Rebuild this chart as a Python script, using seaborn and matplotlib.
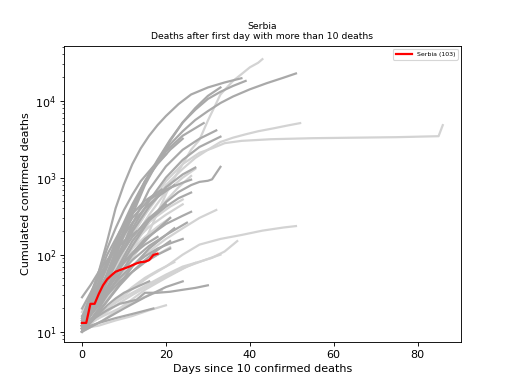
import matplotlib
matplotlib.use("Agg")
import pandas as pd
import matplotlib.pyplot as plt
import seaborn as sns

# Serbia, deaths per day since the 10th death
serbia_days = list(range(19))
serbia_deaths = [13, 13, 23, 23, 31, 40, 48, 54, 60, 63, 66, 69, 73, 77, 80, 81, 85, 99, 103]

# other countries, (day, deaths)
dark_curves = [
    [(0, 12), (2, 25), (4, 60), (6, 150), (8, 400), (10, 820), (12, 1500), (14, 2400), (16, 3500),
     (18, 4800), (20, 6300), (23, 9000), (26, 12000), (30, 14800), (34, 17200), (38, 19500)],
    [(0, 11), (3, 20), (6, 55), (9, 150), (12, 380), (15, 850), (18, 1600), (21, 2700), (24, 4000),
     (27, 5600), (30, 7300), (33, 9300), (36, 11300), (40, 14000), (44, 16800), (48, 19800), (51, 22500)],
    [(0, 13), (3, 28), (6, 70), (9, 180), (12, 420), (15, 900), (18, 1700), (21, 3100), (24, 5200),
     (27, 7600), (30, 10500), (33, 13000), (36, 15500), (39, 18000)],
    [(0, 10), (3, 22), (6, 50), (9, 130), (12, 330), (15, 800), (18, 1600), (21, 3000), (24, 5200),
     (27, 8000), (30, 11500), (33, 14800)],
    [(0, 12), (4, 30), (8, 110), (12, 400), (16, 1100), (20, 2200), (24, 3500), (29, 5100)],
    [(0, 11), (4, 25), (8, 80), (12, 250), (16, 700), (20, 1400), (24, 2300), (28, 3200), (32, 4100)],
    [(0, 14), (4, 35), (8, 90), (12, 220), (16, 500), (20, 1000), (24, 1700), (28, 2500), (33, 3400)],
    [(0, 12), (4, 22), (8, 55), (12, 130), (16, 280), (20, 480), (23, 650), (26, 800), (28, 880),
     (30, 910), (31, 950), (33, 1380)],
    [(0, 10), (4, 28), (8, 75), (12, 200), (16, 420), (20, 750), (24, 1100), (27, 1350)],
    [(0, 13), (4, 24), (8, 60), (12, 150), (16, 280), (20, 420), (23, 540), (26, 640)],
    [(0, 11), (5, 30), (10, 80), (15, 160), (20, 250), (24, 320), (26, 360)],
    [(0, 15), (4, 45), (8, 130), (12, 300), (16, 520), (20, 700), (24, 860), (26, 940)],
    [(0, 12), (4, 30), (8, 80), (12, 170), (16, 300), (20, 450)],
    [(0, 10), (4, 20), (8, 45), (12, 100), (16, 170), (21, 300)],
    [(0, 14), (3, 40), (6, 100), (9, 200), (12, 340), (15, 500), (19, 700)],
    [(0, 11), (4, 18), (8, 35), (12, 70), (16, 120), (20, 180), (22, 220)],
    [(0, 12), (3, 15), (6, 19), (9, 23), (13, 26), (15, 32), (18, 32), (21, 33), (24, 35),
     (27, 37), (30, 40)],
    [(0, 11), (4, 13), (8, 15), (12, 17), (17, 20)],
    [(0, 10), (5, 14), (10, 20), (15, 28), (20, 38), (24, 45)],
    [(0, 13), (3, 20), (6, 30), (9, 45), (12, 60), (15, 80), (18, 100), (21, 120)],
    [(0, 12), (4, 25), (8, 50), (12, 85), (16, 130), (20, 180), (25, 260)],
    [(0, 15), (2, 30), (4, 60), (6, 120), (8, 220), (10, 380), (12, 600), (14, 900), (17, 1400), (20, 2000)],
    [(0, 12), (3, 30), (6, 80), (9, 200), (12, 450), (15, 900), (18, 1500), (21, 2300), (24, 3200)],
    [(0, 20), (3, 40), (6, 80), (9, 150), (12, 260), (15, 400), (18, 560), (22, 800)],
    [(0, 11), (3, 16), (6, 25), (9, 40), (12, 60), (15, 85), (18, 115), (21, 150)],
    [(0, 16), (3, 28), (6, 45), (9, 70), (12, 100), (15, 135), (18, 170)],
    [(0, 12), (3, 20), (6, 33), (9, 50), (12, 72), (15, 95), (18, 120), (21, 140), (24, 160)],
    [(0, 28), (2, 40), (4, 60), (6, 85), (8, 115), (10, 150), (13, 200)],
    [(0, 10), (2, 13), (4, 17), (6, 22), (8, 27), (10, 32), (13, 38), (16, 45)],
]

light_curves = [
    [(0, 10), (4, 20), (8, 40), (12, 90), (15, 150), (18, 350), (21, 800), (24, 1500), (26, 2300),
     (28, 3100), (30, 5500), (33, 12000), (36, 18000), (38, 22000), (40, 27000), (42, 31000), (43, 34500)],
    [(0, 12), (4, 30), (8, 80), (12, 200), (16, 450), (20, 900), (24, 1500), (28, 2100), (31, 2400),
     (34, 2800), (38, 3000), (45, 3150), (55, 3250), (65, 3300), (75, 3350), (85, 3450), (86, 4800)],
    [(0, 10), (4, 25), (8, 70), (12, 180), (16, 400), (20, 800), (24, 1300), (27, 1800), (30, 2300),
     (33, 2900), (36, 3300), (39, 3650), (42, 4000), (46, 4400), (49, 4750), (52, 5100)],
    [(0, 11), (4, 25), (8, 60), (12, 150), (16, 330), (20, 650), (24, 1000), (27, 1300)],
    [(0, 12), (4, 22), (8, 50), (12, 120), (16, 260), (20, 500), (23, 750), (26, 1050)],
    [(0, 10), (3, 18), (6, 40), (9, 90), (12, 180), (15, 330), (18, 550), (21, 850)],
    [(0, 13), (4, 22), (8, 40), (12, 70), (16, 110), (20, 160), (24, 220), (28, 300), (32, 380)],
    [(0, 11), (4, 16), (8, 24), (12, 36), (16, 52), (20, 70), (24, 100), (28, 135), (33, 160),
     (38, 180), (43, 205), (48, 225), (51, 235)],
    [(0, 12), (4, 17), (8, 24), (12, 32), (16, 42), (20, 55), (24, 70), (28, 81), (31, 91),
     (34, 110), (37, 150)],
    [(0, 10), (5, 14), (10, 22), (15, 35), (20, 50), (25, 70), (30, 88), (33, 100)],
    [(0, 11), (4, 12), (8, 14), (12, 16), (16, 19), (20, 22)],
    [(0, 12), (4, 15), (8, 19), (12, 24), (16, 30), (19, 34)],
    [(0, 10), (3, 14), (6, 20), (9, 28), (12, 38), (15, 50), (18, 62), (22, 80)],
    [(0, 14), (3, 25), (6, 45), (9, 75), (12, 120), (15, 170), (18, 230), (21, 300)],
    [(0, 11), (4, 30), (8, 70), (12, 140), (16, 230), (20, 330), (24, 450)],
    [(0, 13), (3, 30), (6, 70), (9, 140), (12, 250), (15, 400), (18, 600)],
    [(0, 18), (3, 35), (6, 65), (9, 110), (12, 170), (15, 240), (18, 320), (21, 420), (24, 520)],
    [(0, 12), (3, 18), (6, 28), (9, 42), (12, 60), (15, 80), (18, 100), (21, 125)],
    [(0, 11), (4, 15), (8, 22), (12, 30), (16, 40), (20, 52), (24, 66), (27, 78)],
]


def to_frame(curves):
    rows = []
    for i, curve in enumerate(curves):
        for day, deaths in curve:
            rows.append({"country": i, "day": day, "deaths": deaths})
    return pd.DataFrame(rows)


fig, ax = plt.subplots(figsize=(6.4, 4.8), dpi=80)

sns.lineplot(data=to_frame(light_curves), x="day", y="deaths", units="country", estimator=None,
             color="lightgray", linewidth=2, ax=ax)
sns.lineplot(data=to_frame(dark_curves), x="day", y="deaths", units="country", estimator=None,
             color="darkgray", linewidth=2, ax=ax)
sns.lineplot(x=serbia_days, y=serbia_deaths, color="red", linewidth=2,
             label=f"Serbia ({serbia_deaths[-1]})", ax=ax)

ax.set_yscale("log")
ax.set_xlim(-4.3, 90.3)
ax.set_ylim(7.4, 51000)
ax.set_xlabel("Days since 10 confirmed deaths")
ax.set_ylabel("Cumulated confirmed deaths")
ax.set_title("Serbia\nDeaths after first day with more than 10 deaths", fontsize=8.3)
ax.legend(loc="upper right", fontsize=5.6, handlelength=2.6)

fig.savefig("out.png", dpi=80)
